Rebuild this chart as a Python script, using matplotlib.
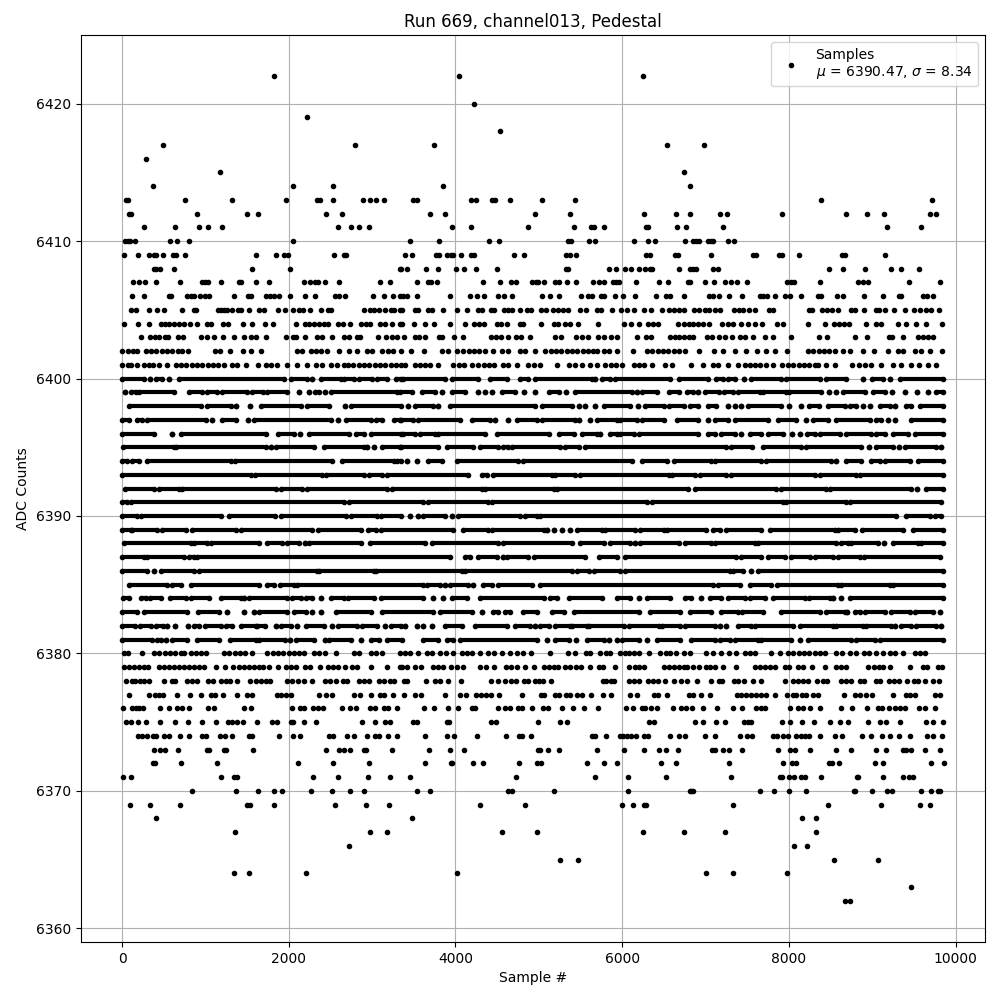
import numpy as np
import matplotlib
matplotlib.use('Agg')
import matplotlib.pyplot as plt

# sample numbers per ADC level
s6422 = [1822, 4048, 6244]
s6420 = [4228]
s6419 = [2218]
s6418 = [4540]
s6417 = [490, 2794, 3748, 6532, 6980]
s6416 = [286]
s6415 = [1174, 6736]
s6414 = [370, 2050, 2530, 3856, 6816]
s6413 = [46, 70, 754, 1318, 1966, 2342, 2374, 2530, 2890, 2974, 3046, 3142, 3496, 3544, 4192, 4252, 4444, 4480, 4660, 5032, 5428, 8384, 9716]
s6412 = [88, 110, 898, 1498, 1630, 2446, 2638, 3700, 3880, 4948, 5368, 6256, 6640, 6808, 7172, 7256, 7916, 8684, 8936, 9140, 9692, 9764]
s6411 = [262, 634, 922, 1030, 1198, 2590, 2746, 2842, 2962, 3964, 4192, 4876, 5416, 5620, 5656, 5776, 6280, 6304, 6652, 6760, 7208, 9176, 9584]
s6410 = [34, 70, 94, 154, 574, 658, 802, 2050, 3460, 3808, 4408, 4528, 5344, 5380, 5596, 5668, 6136, 6304, 6388, 6748, 6848, 6880, 6920, 7028, 7060, 7088, 7268, 7340]
s6409 = [22, 190, 322, 382, 406, 490, 610, 646, 754, 1606, 1846, 1942, 1990, 2542, 2662, 2686, 3400, 3484, 3772, 3808, 3904, 3952, 3976, 4072, 4192, 4228, 4708, 4828, 5320, 5368, 5440, 6280, 6328, 6628, 6664, 7064, 7568, 7604, 7880, 7916, 8120, 8636, 8672, 9152]
s6408 = [382, 406, 454, 622, 1558, 2014, 3334, 3352, 3424, 3652, 3796, 4012, 4108, 4252, 4504, 5320, 5344, 5836, 5920, 6028, 6100, 6196, 6268, 6328, 6352, 6676, 6816, 6848, 6888, 7088, 7148, 8480, 8648, 8912, 9224, 9344, 9560]
s6407 = [130, 202, 274, 406, 694, 958, 994, 1030, 1186, 1402, 1426, 1606, 1762, 2182, 2254, 2314, 2350, 2434, 2602, 3094, 3214, 3544, 3676, 3712, 3784, 4336, 4540, 4672, 4732, 4924, 4960, 4984, 5056, 5188, 5236, 5332, 5440, 5644, 5716, 5776, 5884, 5920, 5956, 6160, 6436, 6544, 6808, 6788, 6992, 7100, 7232, 7304, 7376, 7496, 7976, 8024, 8060, 8372, 8828, 8888, 8948, 9440, 9812]
s6406 = [118, 262, 562, 586, 778, 826, 862, 934, 994, 1042, 1342, 1510, 1546, 1726, 1774, 1822, 1882, 2014, 2194, 2314, 2554, 2602, 2674, 3010, 3142, 3250, 3334, 3376, 3424, 3544, 3940, 4180, 4264, 4348, 4516, 4588, 4684, 5032, 5128, 5236, 5500, 5584, 5632, 5740, 5776, 5908, 6012, 6148, 6400, 6520, 6568, 6736, 7040, 7088, 7160, 7280, 7436, 7652, 7688, 7736, 7832, 7952, 8012, 8144, 8348, 8384, 8576, 8648, 8900, 9128, 9320, 9344, 9608, 9656, 9728]
s6405 = [106, 166, 322, 418, 502, 718, 862, 886, 1150, 1186, 1222, 1258, 1318, 1390, 1426, 1522, 1642, 1702, 1870, 1954, 2050, 2122, 2170, 2254, 2386, 2470, 2506, 2902, 2974, 3022, 3082, 3154, 3226, 3262, 3334, 3364, 3520, 3556, 3676, 3724, 3856, 4024, 4144, 4276, 4324, 4432, 4468, 4588, 4636, 4684, 4780, 4864, 4912, 5020, 5080, 5164, 5224, 5284, 5344, 5488, 5560, 5692, 5740, 5872, 5980, 6052, 6136, 6256, 6340, 6472, 6556, 6616, 6676, 6736, 6864, 6920, 6992, 7040, 7112, 7172, 7340, 7400, 7448, 7520, 7592, 7760, 7808, 8240, 8276, 8396, 8456, 8516, 8588, 8744, 8792, 8900, 9044, 9080, 9152, 9260, 9392, 9500, 9572, 9644, 9704, 9800]
s6404 = [22, 190, 322, 466, 514, 562, 622, 682, 742, 814, 898, 1018, 1066, 1210, 1270, 1450, 1558, 1714, 1810, 2086, 2194, 2242, 2302, 2362, 2422, 2470, 2590, 2650, 2734, 2866, 2926, 2974, 3094, 3154, 3238, 3334, 3364, 3508, 3640, 3748, 3940, 4120, 4228, 4288, 4348, 4504, 4552, 4624, 4780, 4816, 5020, 5176, 5224, 5308, 5368, 5464, 5704, 6016, 6100, 6196, 6304, 6364, 6424, 6664, 6736, 6796, 6848, 6908, 6968, 7040, 7196, 7268, 7328, 7424, 7508, 7592, 7676, 7856, 7928, 8228, 8432, 8540, 8600, 8660, 8720, 8924, 9044, 9104, 9308, 9404, 9524, 9644, 9836]
s6403 = [226, 334, 394, 442, 514, 550, 670, 730, 946, 1018, 1102, 1210, 1342, 1462, 1546, 1606, 1726, 1966, 2050, 2086, 2194, 2338, 2398, 2518, 2662, 2722, 2818, 2854, 3070, 3166, 3238, 3294, 3388, 3520, 3568, 3640, 3808, 3844, 3988, 4096, 4432, 4492, 4552, 4636, 4732, 4792, 4900, 5188, 5260, 5440, 5512, 5584, 5704, 5776, 5860, 5932, 6180, 6280, 6340, 6568, 6628, 6676, 6736, 6796, 6848, 7016, 7076, 7160, 7232, 7316, 7412, 7472, 7568, 7712, 7808, 8024, 8360, 8456, 8792, 8936, 9200, 9236, 9368, 9548, 9608, 9668, 9728]
s6402 = [2, 66, 130, 182, 282, 346, 410, 474, 538, 602, 666, 722, 794, 1110, 1174, 1294, 1454, 1542, 1662, 2102, 2162, 2262, 2326, 2390, 2454, 2602, 2722, 2822, 2942, 3002, 3122, 3186, 3250, 3342, 3468, 3628, 3836, 3916, 4016, 4096, 4160, 4224, 4288, 4352, 4456, 4556, 4636, 4776, 4840, 4956, 5076, 5140, 5204, 5268, 5332, 5396, 5460, 5524, 5588, 5652, 5696, 5776, 5840, 5936, 6124, 6296, 6360, 6424, 6488, 6552, 6616, 6680, 6748, 6920, 7100, 7208, 7352, 7488, 7620, 7728, 7832, 7980, 8228, 8292, 8356, 8420, 8484, 8548, 8648, 8732, 8888, 9020, 9188, 9308, 9372, 9508, 9580, 9688, 9836]
s6401 = [2, 66, 102, 174, 262, 326, 374, 442, 534, 642, 706, 770, 834, 898, 962, 1026, 1090, 1154, 1218, 1322, 1382, 1482, 1630, 1722, 1786, 1862, 1974, 2094, 2222, 2322, 2402, 2502, 2582, 2662, 2710, 2774, 2838, 2902, 2966, 3030, 3094, 3158, 3222, 3286, 3342, 3400, 3516, 3576, 3636, 3696, 3796, 3976, 4040, 4104, 4196, 4276, 4340, 4404, 4468, 4576, 4636, 4736, 4876, 4940, 5016, 5216, 5356, 5436, 5516, 5616, 5696, 5796, 5860, 5924, 5996, 6136, 6200, 6264, 6356, 6516, 6596, 6824, 6968, 7088, 7148, 7268, 7388, 7468, 7528, 7592, 7656, 7720, 7808, 7920, 7988, 8052, 8116, 8180, 8244, 8308, 8348, 8440, 8548, 8756, 8840, 8908, 8988, 9104, 9248, 9348, 9468, 9560, 9668, 9760]
s6380 = [22, 70, 238, 382, 446, 510, 574, 638, 702, 742, 822, 886, 950, 1002, 1222, 1286, 1350, 1414, 1478, 1562, 1742, 1806, 1870, 1934, 1998, 2062, 2126, 2182, 2302, 2366, 2430, 2562, 2782, 2846, 2982, 3042, 3122, 3336, 3400, 3456, 3556, 3656, 3720, 3816, 3888, 3976, 4076, 4140, 4204, 4296, 4396, 4460, 4556, 4660, 4744, 4808, 4904, 5136, 5344, 5428, 5560, 5608, 5728, 5808, 5856, 5968, 6032, 6076, 6136, 6196, 6316, 6456, 6520, 6568, 6648, 6736, 6816, 7008, 7088, 7184, 7280, 7360, 7468, 7532, 7588, 7788, 7888, 7988, 8052, 8116, 8180, 8244, 8308, 8372, 8436, 8568, 8632, 8728, 8804, 8896, 8960, 9048, 9128, 9212, 9276, 9368, 9508, 9572, 9628]
s6379 = [22, 82, 142, 202, 262, 310, 442, 502, 562, 622, 682, 742, 802, 862, 922, 982, 1126, 1234, 1330, 1402, 1462, 1522, 1582, 1642, 1690, 1762, 1870, 1966, 2026, 2086, 2194, 2254, 2374, 2470, 2530, 2590, 2674, 2758, 2818, 2986, 3178, 3334, 3364, 3424, 3520, 3592, 3736, 3796, 3856, 3952, 4024, 4096, 4300, 4372, 4468, 4612, 4672, 4744, 4840, 4944, 5056, 5116, 5176, 5224, 5308, 5368, 5440, 5500, 5608, 5720, 5768, 5916, 6076, 6148, 6196, 6256, 6496, 6556, 6616, 6676, 6736, 6776, 6848, 6920, 7004, 7052, 7112, 7208, 7364, 7592, 7652, 7712, 7772, 7832, 7952, 8000, 8108, 8168, 8276, 8436, 8564, 8624, 8684, 8948, 9020, 9080, 9128, 9212, 9452, 9608, 9656, 9788, 9836]
s6378 = [46, 118, 154, 214, 262, 322, 502, 598, 634, 778, 838, 898, 1030, 1090, 1186, 1246, 1294, 1378, 1534, 1606, 1666, 1726, 1774, 1978, 2038, 2110, 2182, 2278, 2434, 2494, 2566, 2650, 2698, 2842, 2902, 2962, 3082, 3142, 3214, 3262, 3388, 3424, 3652, 3760, 3820, 3916, 4072, 4432, 4516, 4600, 4672, 4732, 4828, 4876, 4948, 4996, 5044, 5140, 5764, 5800, 5860, 5896, 6076, 6136, 6196, 6304, 6364, 6424, 6508, 6616, 6700, 6776, 6896, 7064, 7160, 7196, 7340, 7388, 7460, 7568, 7664, 7952, 8048, 8108, 8168, 8228, 8336, 8408, 8456, 8624, 8684, 8744, 8852, 8900, 9044, 9092, 9200, 9260, 9320, 9416, 9500, 9548, 9632, 9728, 9800]
s6377 = [82, 322, 394, 442, 490, 658, 814, 946, 1066, 1114, 1210, 1378, 1498, 1558, 1858, 1906, 1966, 2026, 2362, 2446, 2518, 2782, 2854, 2986, 3094, 3142, 3250, 3388, 3520, 3592, 3880, 4060, 4132, 4252, 4312, 4372, 4432, 4528, 4804, 5020, 5056, 5188, 5236, 5320, 5368, 5452, 5512, 5620, 5764, 5860, 6088, 6172, 6376, 6424, 6536, 6800, 6848, 6940, 7048, 7376, 7424, 7484, 7544, 7604, 7664, 7724, 7832, 7976, 8048, 8084, 8156, 8204, 8288, 8348, 8660, 8792, 8852, 8924, 8996, 9248, 9404, 9452, 9512, 9752, 9812]
s6376 = [10, 118, 166, 202, 250, 454, 562, 658, 718, 802, 1030, 1102, 1462, 1546, 2038, 2134, 2182, 2290, 2350, 2410, 2638, 2734, 2806, 2974, 3034, 3142, 3190, 3298, 3628, 3748, 3916, 4036, 4204, 4240, 4516, 4600, 4660, 4756, 4804, 4924, 5044, 5104, 5272, 5404, 5536, 5704, 6040, 6124, 6232, 6268, 6340, 6412, 6604, 6708, 6768, 6836, 6968, 7136, 7328, 7436, 7604, 7664, 7712, 8012, 8108, 8168, 8252, 8368, 8624, 8756, 8936, 9068, 9116, 9200, 9272, 9332, 9392, 9560, 9632, 9752]
s6375 = [46, 106, 190, 286, 454, 634, 790, 958, 1126, 1270, 1318, 1378, 1450, 1618, 1798, 1858, 2026, 2050, 2182, 2326, 2878, 3034, 3154, 3214, 3496, 3544, 3904, 3928, 4432, 4492, 4984, 5248, 5332, 6316, 6376, 6876, 6972, 7124, 7232, 7460, 7508, 7544, 7916, 8012, 8156, 8300, 8492, 8612, 8708, 8948, 9092, 9164, 9332, 9644, 9728, 9848]
s6374 = [190, 238, 298, 370, 406, 502, 562, 694, 802, 958, 1006, 1174, 1234, 1318, 1522, 1558, 1882, 2050, 2134, 2482, 2530, 2698, 2782, 2938, 3034, 3082, 3190, 3298, 3640, 3904, 3988, 4264, 4612, 4768, 4804, 4912, 5632, 5668, 5808, 5968, 6004, 6052, 6100, 6160, 6256, 6304, 6568, 6676, 6748, 6992, 7112, 7412, 7496, 7556, 7808, 7856, 7928, 7988, 8084, 8144, 8192, 8240, 8372, 8552, 8636, 8876, 8984, 9116, 9212, 9320, 9452, 9656, 9728, 9836]
s6373 = [382, 454, 514, 670, 1018, 1042, 1222, 1246, 1570, 2446, 2602, 2662, 2734, 2902, 2926, 3238, 3688, 3940, 4108, 4984, 5008, 5104, 5236, 5692, 6016, 6256, 6436, 6520, 6664, 7076, 7112, 7208, 7280, 7436, 7868, 8012, 8072, 8252, 8564, 8744, 9044, 9164, 9368, 9404, 9464, 9632, 9812]
s6372 = [370, 394, 706, 1138, 2110, 2530, 2962, 3640, 3952, 3964, 4216, 4336, 4768, 4972, 5020, 5572, 5776, 5932, 6460, 6640, 7280, 7928, 8036, 8084, 8480, 8516, 8600, 9032, 9128, 9704, 9860]
s6371 = [10, 106, 1186, 1342, 1378, 2290, 2590, 2950, 3214, 3460, 4732, 5668, 6064, 6520, 7304, 7892, 7916, 8000, 8060, 8144, 8192, 8384, 8816, 8828, 9128, 9368, 9440, 9488]
s6370 = [838, 1366, 1630, 1822, 1918, 2266, 2518, 2734, 2902, 3544, 3700, 4636, 4684, 5176, 6064, 6808, 6828, 6852, 7652, 7820, 8000, 8204, 8780, 8792, 9000, 9176, 9236, 9584, 9704, 9788, 9812]
s6369 = [94, 334, 694, 1498, 1534, 1822, 2554, 2926, 3202, 4300, 4840, 5992, 6124, 6256, 6280, 7328, 8468, 9104, 9572, 9692]
s6368 = [406, 3484, 8156, 8324]
s6367 = [1354, 2974, 3178, 4564, 4972, 6244, 6736, 7232, 8324]
s6366 = [2722, 8060, 8216]
s6365 = [5248, 5464, 8540, 9068]
s6364 = [1342, 1522, 2206, 4024, 7004, 7328, 7976]
s6363 = [9464]
s6362 = [8672, 8732]

# rows 6381-6400 merge into bands, so they are kept as (first, last) sample of each run
r6400 = [(2,262),(334,334),(402,482),(562,562),(682,1942),(2022,2222),(2282,2282),(2382,2622),(2662,2782),(2842,3002),(3062,3182),(3282,3342),(3376,3876),(3956,4276),(4416,4616),(4776,4876),(4956,5636),(5676,5676),(5756,5856),(5916,6576),(6676,7028),(7120,7208),(7268,7348),(7460,7460),(7548,7908),(7968,8368),(8448,8688),(8888,8888),(8996,9128),(9208,9208),(9328,9848)]
r6399 = [(30,30),(102,162),(202,622),(802,962),(1022,1142),(1202,1502),(1562,1694),(1742,1982),(2122,2122),(2242,2242),(2310,2362),(2430,2430),(2502,3302),(3336,3476),(3596,3756),(3844,3844),(3956,4116),(4276,4276),(4356,4356),(4436,4436),(4556,4716),(4828,4828),(4956,4956),(5116,5236),(5324,5324),(5436,6116),(6176,6176),(6236,6416),(6556,6676),(6776,6848),(6908,6908),(6988,7160),(7220,7328),(7388,7648),(7688,7968),(8000,8388),(8476,8476),(8568,8568),(8648,8908),(9008,9148),(9232,9232),(9392,9392),(9536,9536),(9668,9668),(9768,9850)]
r6398 = [(82,942),(1022,1310),(1366,1366),(1530,1530),(1662,2142),(2214,2482),(2674,2674),(2742,3342),(3436,3436),(3516,3736),(3796,3796),(3936,4956),(5036,5396),(5476,5476),(5548,5548),(5668,5668),(5776,6096),(6184,6184),(6276,6496),(6556,6736),(6808,6908),(7028,7128),(7268,7268),(7348,7348),(7428,7428),(7508,7908),(8000,8000),(8144,8144),(8240,8360),(8468,8668),(8736,8808),(8888,8888),(8968,8968),(9088,9208),(9272,9272),(9408,9468),(9568,9850)]
r6397 = [(2,82),(174,242),(294,1002),(1074,1074),(1202,1362),(1510,1510),(1582,2502),(2590,2590),(2682,2982),(3042,3122),(3262,3342),(3336,3496),(3556,4056),(4196,4416),(4476,4476),(4636,4636),(4736,4976),(5036,5436),(5484,5484),(5608,5608),(5696,5936),(5976,6176),(6236,6496),(6656,6908),(7028,7028),(7108,7268),(7348,7748),(7868,8088),(8204,8204),(8288,8468),(8568,8968),(9048,9108),(9188,9188),(9268,9268),(9468,9850)]
r6396 = [(2,382),(594,594),(710,1722),(1874,2062),(2134,2134),(2242,2722),(2802,2902),(2982,3342),(3376,3516),(3576,3756),(3796,4356),(4496,5116),(5236,5416),(5516,5696),(5736,5736),(5856,5936),(5976,6136),(6196,6908),(7028,7108),(7188,7348),(7428,7428),(7528,7668),(7748,7928),(8036,8036),(8132,8132),(8216,8308),(8368,8608),(8688,8988),(9048,9148),(9248,9428),(9508,9850)]
r6395 = [(14,622),(642,1722),(1782,1782),(1842,2302),(2422,2902),(2942,2942),(3022,3022),(3122,3342),(3336,3796),(3896,4216),(4296,4516),(4576,4636),(4676,5256),(5316,5476),(5556,7248),(7308,7560),(7688,8148),(8208,8868),(8960,8960),(9048,9248),(9320,9320),(9388,9768),(9828,9828)]
r6394 = [(2,62),(122,202),(302,1302),(1350,2522),(2642,3262),(3302,3342),(3416,3416),(3536,3536),(3676,3836),(4016,4756),(4816,6116),(6236,6536),(6616,7068),(7108,7668),(7728,8508),(8568,8568),(8688,8868),(8988,9088),(9148,9448),(9548,9850)]
r6393 = [(0,1542),(1590,2402),(2442,2902),(2962,3122),(3182,4156),(4316,4376),(4456,5156),(5196,5436),(5496,6556),(6596,6868),(6928,7248),(7308,8308),(8368,8808),(8848,9850)]
r6392 = [(38,382),(442,682),(722,1842),(1910,2162),(2222,3182),(3242,4316),(4356,5176),(5216,6788),(6868,7848),(7908,8448),(8488,9468),(9536,9536),(9648,9848)]
r6391 = [(2,62),(102,2662),(2722,3616),(3676,4396),(4436,6296),(6356,7928),(7968,8688),(8728,9828)]
r6390 = [(2,182),(222,1182),(1282,1830),(1910,2682),(2742,3062),(3110,3342),(3456,3456),(3556,3556),(3616,3876),(3956,3956),(4036,4776),(4836,4976),(5016,9288),(9408,9688),(9748,9828)]
r6389 = [(2,102),(122,422),(482,762),(834,1362),(1422,2282),(2350,2862),(2950,3042),(3110,3976),(4096,4396),(4436,5056),(5096,5096),(5176,5176),(5276,5276),(5376,5376),(5456,5756),(5796,6156),(6216,6496),(6536,7008),(7088,7168),(7248,7668),(7776,8548),(8588,8788),(8880,9368),(9488,9850)]
r6388 = [(22,822),(862,1022),(1062,1642),(1742,1922),(1974,2122),(2190,2190),(2242,2862),(2974,3636),(3716,4516),(4576,5396),(5496,5776),(5856,6096),(6148,6148),(6208,6676),(6748,7068),(7108,7588),(7628,8568),(8628,8708),(8748,9068),(9140,9140),(9248,9548),(9588,9850)]
r6387 = [(2,262),(294,742),(802,862),(902,3936),(4116,4176),(4276,4496),(4576,4576),(4624,4876),(4936,5556),(5716,5936),(6036,7368),(7428,7668),(7748,7948),(8020,8248),(8308,8528),(8588,8848),(8900,9808)]
r6386 = [(2,302),(382,382),(462,862),(922,2342),(2362,3022),(3042,4076),(4116,5396),(5456,5596),(5656,5976),(6036,7288),(7328,7448),(7548,7548),(7628,9850)]
r6385 = [(82,542),(602,702),(822,1642),(1742,1822),(1894,2062),(2102,3616),(3656,3816),(3876,3876),(3936,4156),(4216,4216),(4336,4436),(4516,4916),(5016,7088),(7148,7408),(7528,7788),(7856,8588),(8628,9208),(9248,9850)]
r6384 = [(14,82),(222,282),(334,462),(574,762),(822,1042),(1182,1422),(1462,1462),(1522,1982),(2042,2142),(2202,2282),(2382,2382),(2502,2662),(2710,3022),(3102,3616),(3736,3736),(3856,3856),(3956,4136),(4296,5056),(5136,5216),(5356,5756),(5936,6096),(6196,6196),(6296,6576),(6756,6828),(6948,6948),(7048,7188),(7268,7468),(7528,7708),(7808,8188),(8240,8488),(8528,8528),(8628,8628),(8728,9848)]
r6383 = [(2,182),(262,782),(910,1162),(1262,1262),(1462,1462),(1582,1582),(1642,1982),(2062,2202),(2282,2282),(2382,2382),(2562,2982),(3122,3736),(3816,4196),(4316,4316),(4456,4516),(4596,4656),(4816,4976),(5156,5296),(5416,6196),(6336,6696),(6808,7068),(7188,7388),(7440,7688),(7908,8368),(8440,8668),(8700,8700),(8788,8848),(8908,9148),(9228,9448),(9508,9728),(9808,9808)]
r6382 = [(2,150),(214,350),(402,494),(542,542),(630,630),(790,790),(862,922),(990,1182),(1242,1322),(1430,1602),(1622,1710),(1846,1846),(1910,2022),(2094,2094),(2202,2422),(2522,2522),(2590,2822),(2882,3062),(3150,3150),(3222,3342),(3396,3396),(3544,3544),(3616,3616),(3724,3724),(3876,4076),(4236,4616),(4716,4896),(4948,4948),(5016,5116),(5196,5376),(5396,5576),(5596,6016),(6076,6436),(6476,6696),(6756,7108),(7168,7168),(7240,7240),(7388,7548),(7588,8048),(8128,8528),(8568,8888),(8928,9228),(9268,9268),(9348,9468),(9528,9768),(9828,9828)]
r6381 = [(2,362),(422,462),(522,522),(602,782),(894,1162),(1290,1602),(1642,1950),(2014,2014),(2082,2302),(2434,2434),(2482,2742),(2862,2862),(2982,3082),(3182,3356),(3616,3796),(3896,3976),(4056,4976),(5096,5096),(5196,5356),(5448,5448),(5576,5776),(5836,5836),(5936,5936),(5996,6196),(6296,6296),(6416,6696),(6828,7108),(7168,7288),(7348,7628),(7668,8028),(8136,8136),(8228,8748),(8808,9028),(9088,9850)]

point_rows = {6422: s6422, 6420: s6420, 6419: s6419, 6418: s6418, 6417: s6417, 6416: s6416, 6415: s6415, 6414: s6414,
              6413: s6413, 6412: s6412, 6411: s6411, 6410: s6410, 6409: s6409, 6408: s6408, 6407: s6407, 6406: s6406,
              6405: s6405, 6404: s6404, 6403: s6403, 6402: s6402, 6401: s6401, 6380: s6380, 6379: s6379, 6378: s6378,
              6377: s6377, 6376: s6376, 6375: s6375, 6374: s6374, 6373: s6373, 6372: s6372, 6371: s6371, 6370: s6370,
              6369: s6369, 6368: s6368, 6367: s6367, 6366: s6366, 6365: s6365, 6364: s6364, 6363: s6363, 6362: s6362}
run_rows = {6400: r6400, 6399: r6399, 6398: r6398, 6397: r6397, 6396: r6396, 6395: r6395, 6394: r6394, 6393: r6393,
            6392: r6392, 6391: r6391, 6390: r6390, 6389: r6389, 6388: r6388, 6387: r6387, 6386: r6386, 6385: r6385,
            6384: r6384, 6383: r6383, 6382: r6382, 6381: r6381}

xs, ys = [], []
for level, samples in point_rows.items():
    xs += samples
    ys += [level] * len(samples)

fig, ax = plt.subplots(figsize=(10, 10), dpi=100)
for level, runs in run_rows.items():
    runs = np.array(runs)
    ax.hlines([level] * len(runs), runs[:, 0], runs[:, 1], colors='k', lw=3.0, zorder=2)
    xs += list(runs[:, 0]) + list(runs[:, 1])
    ys += [level] * (2 * len(runs))

ax.plot(xs, ys, 'k.', label='Samples\n$\\mu$ = 6390.47, $\\sigma$ = 8.34')
ax.set_title('Run 669, channel013, Pedestal')
ax.set_xlabel('Sample #')
ax.set_ylabel('ADC Counts')
ax.grid(True)
ax.legend(loc='upper right')
fig.subplots_adjust(left=0.081, right=0.985, top=0.965, bottom=0.058)
plt.savefig('out.png')
